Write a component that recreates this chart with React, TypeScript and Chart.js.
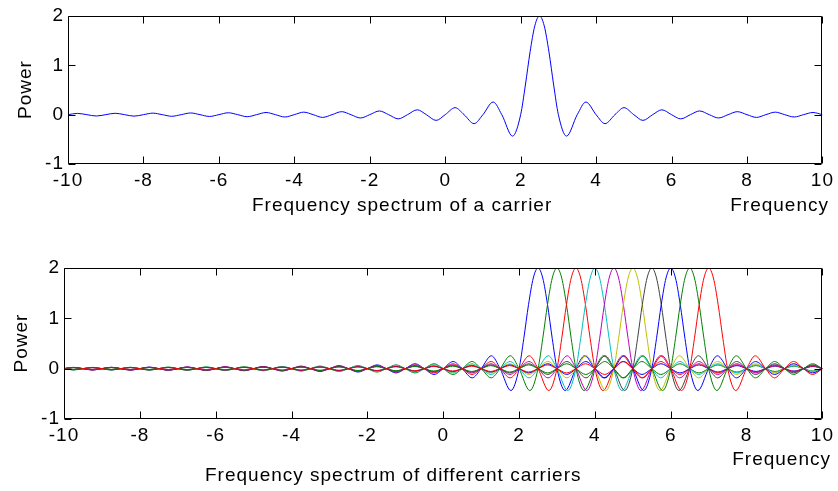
import React, { useEffect, useRef } from "react";
import { Chart, registerables } from "chart.js";

Chart.register(...registerables);

// Measured pulse profile of one carrier (offset from carrier centre, power), one side; the pulse is symmetric
const PULSE_OFFSETS = [
  0, 0.125, 0.25, 0.375, 0.5, 0.715, 1.0, 1.2295, 1.5, 1.7355, 2.0, 2.2387, 2.5, 2.7408, 3.0,
  3.2422, 3.5, 3.7433, 4.0, 4.2441, 4.5, 4.7447, 5.0, 5.245, 5.5, 5.75, 6.0, 6.25, 6.5, 6.75,
  7.0, 7.25, 7.5, 7.75, 8.0, 8.25, 8.5, 8.75, 9.0, 9.25, 9.5, 9.75, 10.0, 10.25, 10.5, 10.75,
  11.0, 11.25, 11.5, 11.75, 12.0, 12.25, 12.5, 12.75, 13.0, 13.25, 13.5, 13.75, 14.0, 14.25,
  14.5, 14.75, 15.0, 15.25, 15.5, 15.75, 16.0, 16.25, 16.5, 16.75, 17.0, 17.25,
];
const PULSE_VALUES = [
  2, 1.8006, 1.2732, 0.6002, 0, -0.4344, 0, 0.2562, 0, -0.1825, 0, 0.1418, 0, -0.1161, 0,
  0.0982, 0, -0.0851, 0, 0.0751, 0, -0.0672, 0, 0.0607, 0, -0.0554, 0, 0.0509, 0, -0.0472,
  0, 0.0439, 0, -0.0411, 0, 0.0386, 0, -0.0364, 0, 0.0344, 0, -0.0326, 0, 0.0311, 0, -0.0296,
  0, 0.0283, 0, -0.0271, 0, 0.026, 0, -0.025, 0, 0.024, 0, -0.0231, 0, 0.0223,
  0, -0.0216, 0, 0.0209, 0, -0.0202, 0, 0.0196, 0, -0.019, 0, 0.0185,
];

// Carrier centre frequencies
const SINGLE_CARRIER = [2.5];
const CARRIER_CENTERS = [2.5, 3.0, 3.5, 4.0, 4.5, 5.0, 5.5, 6.0, 6.5, 7.0];
const CARRIER_COLORS = [
  "rgb(0,0,255)",
  "rgb(0,128,0)",
  "rgb(255,0,0)",
  "rgb(0,191,191)",
  "rgb(191,0,191)",
  "rgb(191,191,0)",
  "rgb(64,64,64)",
  "rgb(0,0,255)",
  "rgb(0,128,0)",
  "rgb(255,0,0)",
];

// Axis ticks
const X_TICKS = [-10, -8, -6, -4, -2, 0, 2, 4, 6, 8, 10];
const Y_TICKS = [-1, 0, 1, 2];

const FONT = "Liberation Sans, Arial, Helvetica, sans-serif";
const FONT_SIZE = 19;
const LETTER_SPACING = "1px";

function pulseAt(center: number) {
  const pts: { x: number; y: number }[] = [];
  for (let i = PULSE_OFFSETS.length - 1; i >= 1; i--) {
    pts.push({ x: center - PULSE_OFFSETS[i], y: PULSE_VALUES[i] });
  }
  for (let i = 0; i < PULSE_OFFSETS.length; i++) {
    pts.push({ x: center + PULSE_OFFSETS[i], y: PULSE_VALUES[i] });
  }
  return pts;
}

type TextItem = { text: string; x: number; y: number; align: CanvasTextAlign; rotate?: boolean };

const matlabAxes = {
  id: "matlabAxes",
  beforeDraw(chart: any) {
    (chart.ctx as any).letterSpacing = LETTER_SPACING;
  },
  afterDatasetsDraw(chart: any, _args: any, opts: any) {
    const ctx = chart.ctx as CanvasRenderingContext2D;
    const xs = chart.scales.x;
    const ys = chart.scales.y;
    const a = chart.chartArea;
    const L = Math.round(a.left) + 0.5;
    const R = Math.round(a.right) - 0.5;
    const T = Math.round(a.top) + 0.5;
    const B = Math.round(a.bottom) - 0.5;
    const tl = opts.tickLen || 7;
    ctx.save();
    ctx.strokeStyle = "#000";
    ctx.lineWidth = 1;
    ctx.beginPath();
    ctx.rect(L, T, R - L, B - T);
    X_TICKS.forEach((v) => {
      const px = Math.round(xs.getPixelForValue(v)) + 0.5;
      ctx.moveTo(px, B);
      ctx.lineTo(px, B - tl);
      ctx.moveTo(px, T);
      ctx.lineTo(px, T + tl);
    });
    Y_TICKS.forEach((v) => {
      const py = Math.round(ys.getPixelForValue(v)) + 0.5;
      ctx.moveTo(L, py);
      ctx.lineTo(L + tl, py);
      ctx.moveTo(R, py);
      ctx.lineTo(R - tl, py);
    });
    ctx.stroke();
    ctx.fillStyle = "#000";
    ctx.font = `${FONT_SIZE}px ${FONT}`;
    (ctx as any).letterSpacing = LETTER_SPACING;
    ctx.textBaseline = "alphabetic";
    (opts.texts || []).forEach((t: TextItem) => {
      ctx.save();
      ctx.translate(t.x, t.y);
      if (t.rotate) ctx.rotate(-Math.PI / 2);
      ctx.textAlign = t.align;
      ctx.fillText(t.text, 0, 0);
      ctx.restore();
    });
    ctx.restore();
  },
};

function makeConfig(
  centers: number[],
  colors: string[],
  area: { left: number; right: number; top: number; bottom: number },
  canvasW: number,
  canvasH: number,
  texts: TextItem[],
  xPad: number,
  yPad: number
) {
  const xH = 40;
  return {
    type: "line",
    data: {
      datasets: centers.map((c, i) => ({
        data: pulseAt(c),
        borderColor: colors[i],
        borderWidth: 1,
        pointRadius: 0,
        fill: false,
        cubicInterpolationMode: "monotone",
        clip: 0,
        order: -i,
      })),
    },
    options: {
      animation: false,
      responsive: false,
      devicePixelRatio: 1,
      events: [],
      layout: {
        padding: {
          left: 0,
          top: area.top,
          right: canvasW - area.right,
          bottom: canvasH - area.bottom - xH,
        },
      },
      plugins: {
        legend: { display: false },
        tooltip: { enabled: false },
        matlabAxes: { texts, tickLen: 7 },
      },
      scales: {
        x: {
          type: "linear",
          min: -10,
          max: 10,
          grid: { display: false, drawTicks: false },
          border: { display: false },
          afterFit: (s: any) => {
            s.height = xH;
          },
          afterBuildTicks: (s: any) => {
            s.ticks = X_TICKS.map((v) => ({ value: v }));
          },
          ticks: {
            padding: xPad,
            color: "#000",
            maxRotation: 0,
            autoSkip: false,
            font: { family: FONT, size: FONT_SIZE },
          },
        },
        y: {
          type: "linear",
          min: -1,
          max: 2,
          grid: { display: false, drawTicks: false },
          border: { display: false },
          afterFit: (s: any) => {
            s.width = area.left;
          },
          afterBuildTicks: (s: any) => {
            s.ticks = Y_TICKS.map((v) => ({ value: v }));
          },
          ticks: {
            padding: yPad,
            color: "#000",
            font: { family: FONT, size: FONT_SIZE },
          },
        },
      },
    },
    plugins: [matlabAxes],
  };
}

function ChartCanvas({ config, width, height, top }: any) {
  const ref = useRef<HTMLCanvasElement | null>(null);
  useEffect(() => {
    if (!ref.current) return;
    const chart = new Chart(ref.current, config as any);
    return () => chart.destroy();
  }, []);
  return (
    <canvas
      ref={ref}
      width={width}
      height={height}
      style={{ position: "absolute", left: 0, top, width, height, display: "block" }}
    />
  );
}

export default function App() {
  const W = 838;
  const topCfg = makeConfig(
    SINGLE_CARRIER,
    ["rgb(0,0,255)"],
    { left: 68, right: 826, top: 16, bottom: 164 },
    W,
    245,
    [
      { text: "Power", x: 30.5, y: 89.5, align: "center", rotate: true },
      { text: "Frequency spectrum of a carrier", x: 252, y: 211, align: "left" },
      { text: "Frequency", x: 829, y: 211, align: "right" },
    ],
    5,
    4
  );
  const botCfg = makeConfig(
    CARRIER_CENTERS,
    CARRIER_COLORS,
    { left: 64, right: 825, top: 23, bottom: 174 },
    W,
    246,
    [
      { text: "Power", x: 27, y: 98, align: "center", rotate: true },
      { text: "Frequency", x: 831, y: 220, align: "right" },
      { text: "Frequency spectrum of different carriers", x: 205, y: 235.5, align: "left" },
    ],
    5,
    4
  );
  return (
    <div style={{ position: "absolute", left: 0, top: 0, width: W, height: 491, background: "#fff" }}>
      <ChartCanvas config={topCfg} width={W} height={245} top={0} />
      <ChartCanvas config={botCfg} width={W} height={246} top={245} />
    </div>
  );
}
